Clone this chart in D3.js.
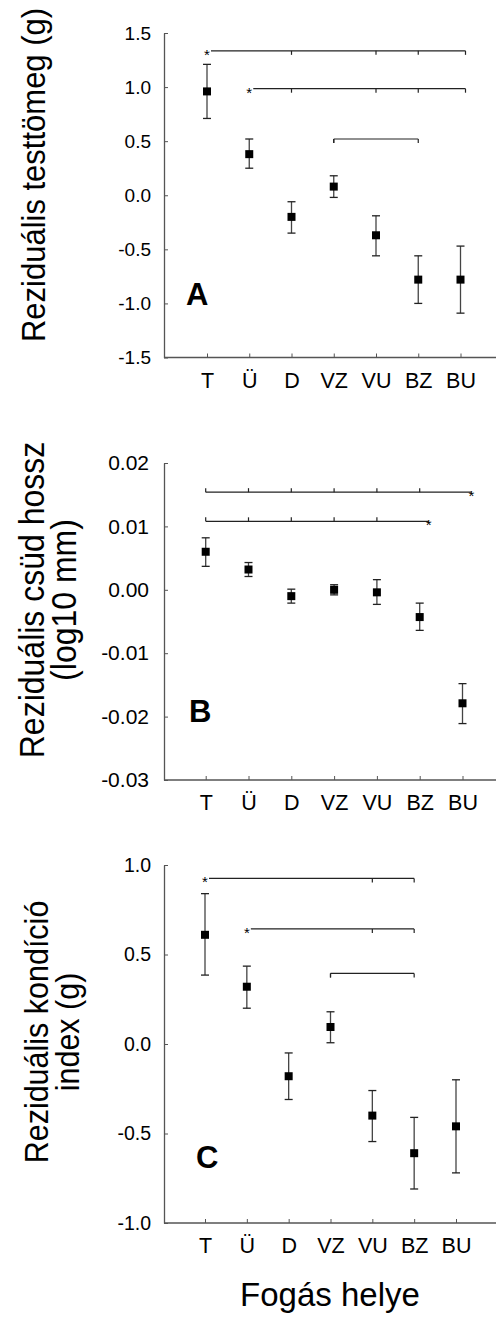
<!DOCTYPE html>
<meta charset="utf-8">
<style>
  body { margin: 0; background: #fff; }
  svg { display: block; font-family: "Liberation Sans", Arial, sans-serif; }
</style>
<body>
<script src="https://cdn.jsdelivr.net/npm/d3@7"></script>
<script>

var width = 496,
    height = 1317;

var categories = ["T", "Ü", "D", "VZ", "VU", "BZ", "BU"];

// A - body mass residuals
var massMean = [0.96, 0.38, -0.20, 0.08, -0.37, -0.78, -0.78];
var massHi   = [1.21, 0.52, -0.06, 0.18, -0.19, -0.56, -0.47];
var massLo   = [0.71, 0.25, -0.35, -0.02, -0.56, -1.00, -1.09];
var massTicks = [1.5, 1.0, 0.5, 0.0, -0.5, -1.0, -1.5];

// B - tarsus length residuals
var tarsMean = [0.0060, 0.0032, -0.0010, 0.0000, -0.0004, -0.0043, -0.0179];
var tarsHi   = [0.0082, 0.0043, 0.0001, 0.0008, 0.0016, -0.0021, -0.0148];
var tarsLo   = [0.0037, 0.0021, -0.0021, -0.0008, -0.0023, -0.0064, -0.0211];
var tarsTicks = [0.02, 0.01, 0.00, -0.01, -0.02, -0.03];

// C - condition index residuals
var condMean = [0.61, 0.32, -0.18, 0.095, -0.40, -0.61, -0.46];
var condHi   = [0.84, 0.435, -0.05, 0.18, -0.26, -0.41, -0.20];
var condLo   = [0.385, 0.20, -0.31, 0.007, -0.545, -0.81, -0.72];
var condTicks = [1.0, 0.5, 0.0, -0.5, -1.0];

// significance brackets
var massBrackets = [
  {y: 1.335, from: "T", to: "BU", ticks: ["D", "VU", "BZ", "BU"], star: "start"},
  {y: 0.985, from: "Ü", to: "BU", ticks: ["D", "VU", "BZ", "BU"], star: "start"},
  {y: 0.52,  from: "VZ", to: "BZ", ticks: ["VZ", "BZ"], star: null}
];
var tarsBrackets = [
  {y: 0.0154, from: "T", to: "BU", ticks: ["T", "Ü", "D", "VZ", "VU", "BZ"], star: "end"},
  {y: 0.0108, from: "T", to: "BZ", ticks: ["T", "Ü", "D", "VZ", "VU"], star: "end"}
];
var condBrackets = [
  {y: 0.925, from: "T", to: "BZ", ticks: ["VU", "BZ"], star: "start"},
  {y: 0.643, from: "Ü", to: "BZ", ticks: ["VU", "BZ"], star: "start"},
  {y: 0.394, from: "VZ", to: "BZ", ticks: ["VZ", "BZ"], star: null}
];

var panels = [
  {letter: "A", mean: massMean, hi: massHi, lo: massLo, ticks: massTicks, fmt: ".1f",
   domain: [-1.5, 1.5], top: 33, bottom: 357.5, xr: [207, 460.5],
   brackets: massBrackets, dir: 1, title: ["Reziduális testtömeg (g)"],
   titleSize: 31, titleX: [45], titleY: 175, tickSize: 19, tickPad: 13,
   letterPos: [186, 305]},
  {letter: "B", mean: tarsMean, hi: tarsHi, lo: tarsLo, ticks: tarsTicks, fmt: ".2f",
   domain: [-0.03, 0.02], top: 463, bottom: 780, xr: [205.7, 462.5],
   brackets: tarsBrackets, dir: -1, title: ["Reziduális csüd hossz", "(log10 mm)"],
   titleSize: 32, titleX: [44, 76], titleY: 600, tickSize: 21, tickPad: 15,
   letterPos: [189, 722]},
  {letter: "C", mean: condMean, hi: condHi, lo: condLo, ticks: condTicks, fmt: ".1f",
   domain: [-1, 1], top: 865, bottom: 1223, xr: [205, 456],
   brackets: condBrackets, dir: 1, title: ["Reziduális kondíció", "index (g)"],
   titleSize: 30.5, titleX: [47.5, 78.5], titleY: 1032, tickSize: 19.5, tickPad: 13,
   letterPos: [196, 1168]}
];

var axisX = 164,
    axisRight = 496,
    axisColor = "#555",
    titleStretch = 1.1;

var svg = d3.select("body").append("svg")
    .attr("width", width)
    .attr("height", height);

panels.forEach(function(p) {
  var x = d3.scalePoint().domain(categories).range(p.xr);
  var y = d3.scaleLinear().domain(p.domain).range([p.bottom, p.top]);
  var g = svg.append("g");

  // y axis
  var ya = g.append("g")
      .attr("transform", "translate(" + axisX + ",0)")
      .call(d3.axisLeft(y).tickValues(p.ticks)
        .tickSizeInner(-4).tickSizeOuter(0).tickPadding(p.tickPad));
  ya.select(".domain").attr("stroke", axisColor).attr("stroke-width", 1.3);
  ya.selectAll(".tick line").attr("stroke", axisColor);
  ya.selectAll("text").attr("font-size", p.tickSize).attr("fill", "#000")
      .text(function(d) { return d3.format(p.fmt)(d).replace("−", "-"); });

  // x axis
  var xa = g.append("g")
      .attr("transform", "translate(0," + p.bottom + ")")
      .call(d3.axisBottom(x).tickSizeInner(-4).tickSizeOuter(0).tickPadding(15));
  xa.select(".domain").remove();
  xa.append("line").attr("x1", axisX).attr("x2", axisRight)
      .attr("stroke", axisColor).attr("stroke-width", 1.3);
  xa.selectAll(".tick line").attr("stroke", axisColor);
  xa.selectAll("text").attr("font-size", 21.5).attr("fill", "#000");

  // error bars
  var rows = categories.map(function(c, i) {
    return {cat: c, mean: p.mean[i], hi: p.hi[i], lo: p.lo[i]};
  });
  var eb = g.selectAll(".eb").data(rows).enter().append("g")
      .attr("stroke", "#444").attr("stroke-width", 1.3);
  eb.append("line")
      .attr("x1", function(d) { return x(d.cat); })
      .attr("x2", function(d) { return x(d.cat); })
      .attr("y1", function(d) { return y(d.hi); })
      .attr("y2", function(d) { return y(d.lo); });
  eb.selectAll(".cap").data(function(d) { return [[d.cat, d.hi], [d.cat, d.lo]]; })
    .enter().append("line")
      .attr("stroke", "#222")
      .attr("x1", function(d) { return x(d[0]) - 4; })
      .attr("x2", function(d) { return x(d[0]) + 4; })
      .attr("y1", function(d) { return y(d[1]); })
      .attr("y2", function(d) { return y(d[1]); });
  g.selectAll(".pt").data(rows).enter().append("rect")
      .attr("x", function(d) { return x(d.cat) - 4; })
      .attr("y", function(d) { return y(d.mean) - 4; })
      .attr("width", 8).attr("height", 8)
      .attr("fill", "#000");

  // brackets
  p.brackets.forEach(function(b) {
    var yy = y(b.y),
        x1 = x(b.from),
        x2 = x(b.to) + (b.star === "end" ? 9 : (b.to === "BU" ? 5 : 0));
    var bg = g.append("g").attr("stroke", "#222").attr("stroke-width", 1.2);
    bg.append("line").attr("x1", b.star === "start" ? x1 + 4 : x1).attr("x2", x2)
        .attr("y1", yy).attr("y2", yy);
    b.ticks.forEach(function(t) {
      var tx = (t === b.to) ? x2 : x(t);
      bg.append("line").attr("x1", tx).attr("x2", tx)
          .attr("y1", yy).attr("y2", yy + 4 * p.dir);
    });
    if (!b.star) {
      bg.append("line").attr("x1", x1).attr("x2", x1)
          .attr("y1", yy).attr("y2", yy + 4 * p.dir);
    }
    if (b.star) {
      g.append("text")
          .attr("x", b.star === "start" ? x1 : x2)
          .attr("y", yy + 9)
          .attr("text-anchor", "middle")
          .attr("font-size", 15)
          .text("*");
    }
  });

  // panel letter
  g.append("text")
      .attr("x", p.letterPos[0]).attr("y", p.letterPos[1])
      .attr("font-size", 31).attr("font-weight", "bold")
      .text(p.letter);

  // y title, one text per line, slightly widened like the original
  p.title.forEach(function(line, i) {
    g.append("text")
        .attr("transform", "translate(" + p.titleX[i] + "," + p.titleY + ") scale(" +
              titleStretch + ",1) rotate(-90)")
        .attr("text-anchor", "middle")
        .attr("font-size", p.titleSize)
        .text(line);
  });
});

svg.append("text")
    .attr("x", 330).attr("y", 1306)
    .attr("text-anchor", "middle")
    .attr("font-size", 33)
    .text("Fogás helye");

</script>
